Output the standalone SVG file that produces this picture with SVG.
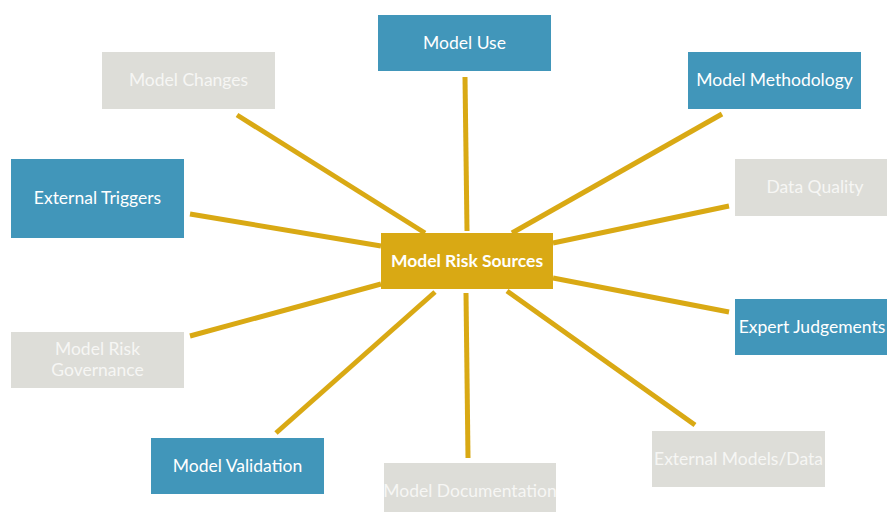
<svg xmlns="http://www.w3.org/2000/svg" width="887" height="512" viewBox="0 0 887 512">
<style>
.blue{fill:#4196BA}
.gray{fill:#DDDDD8}
.gold{fill:#D9A914}
text{font-family:Lato,"Open Sans","Liberation Sans",sans-serif;font-size:17.5px;fill:#FFFFFF;text-anchor:middle;dominant-baseline:central}
.gt{fill:#F6F6F4}
.bold{font-weight:bold}
#connectors line{stroke:#D9A914;stroke-width:5;stroke-linecap:butt}
</style>
<rect width="887" height="512" fill="#FFFFFF"/>
<g id="connectors">
<line x1="465" y1="77" x2="467" y2="231"/>
<line x1="237" y1="115" x2="425" y2="233"/>
<line x1="722" y1="114" x2="512" y2="233"/>
<line x1="190" y1="214" x2="381" y2="246"/>
<line x1="729" y1="206" x2="553" y2="243"/>
<line x1="553" y1="278" x2="729" y2="312"/>
<line x1="190" y1="336" x2="381" y2="284"/>
<line x1="435" y1="292" x2="276" y2="433"/>
<line x1="466" y1="293" x2="468" y2="458"/>
<line x1="507" y1="291" x2="695" y2="425"/>
</g>
<g id="center"><rect class="gold" x="381" y="233" width="172" height="56"/><text class="bold" x="467" y="260">Model Risk Sources</text></g>
<g id="model-use"><rect class="blue" x="378" y="15" width="173" height="56"/><text x="464.5" y="42">Model Use</text></g>
<g id="model-changes"><rect class="gray" x="102" y="52" width="173" height="57"/><text class="gt" x="188.5" y="79">Model Changes</text></g>
<g id="model-methodology"><rect class="blue" x="688" y="52" width="173" height="57"/><text x="774.5" y="79">Model Methodology</text></g>
<g id="external-triggers"><rect class="blue" x="11" y="159" width="173" height="79"/><text x="97.5" y="197">External Triggers</text></g>
<g id="data-quality"><rect class="gray" x="735" y="159" width="160" height="57"/><text class="gt" x="815" y="186">Data Quality</text></g>
<g id="expert-judgements"><rect class="blue" x="735" y="299" width="160" height="56"/><text x="812" y="326">Expert Judgements</text></g>
<g id="model-risk-governance"><rect class="gray" x="11" y="332" width="173" height="56"/><text class="gt" x="97.5" y="348">Model Risk</text><text class="gt" x="97.5" y="369">Governance</text></g>
<g id="model-validation"><rect class="blue" x="151" y="438" width="173" height="56"/><text x="237.5" y="465">Model Validation</text></g>
<g id="model-documentation"><rect class="gray" x="384" y="463" width="172" height="56"/><text class="gt" x="470" y="490">Model Documentation</text></g>
<g id="external-models-data"><rect class="gray" x="652" y="431" width="173" height="56"/><text class="gt" x="738.5" y="458">External Models/Data</text></g>
</svg>
